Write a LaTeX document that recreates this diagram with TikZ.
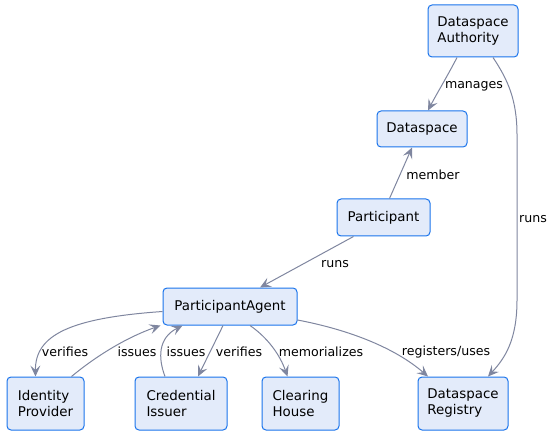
\documentclass[tikz,border=0pt]{standalone}
\usepackage{fontspec}
\setmainfont{DejaVu Sans}
\usetikzlibrary{arrows.meta}
\definecolor{boxfill}{HTML}{E3EBFA}
\definecolor{boxline}{HTML}{1A74EC}
\definecolor{edgecol}{HTML}{7F869F}
\tikzset{
  entity/.style={draw=boxline, fill=boxfill, line width=1pt, rounded corners=4pt,
    align=left, inner sep=0pt, font=\fontsize{13.4}{16}\selectfont},
  rel/.style={draw=edgecol, line width=1pt, -{Stealth[length=11pt,width=10pt,inset=4.5pt]}},
  lbl/.style={font=\fontsize{12.6}{14}\selectfont, inner sep=0pt},
}
\begin{document}
\begin{tikzpicture}[x=1pt,y=-1pt]
\useasboundingbox (0,0) rectangle (553,435);
\node[entity, minimum width=90pt, minimum height=52pt] (auth) at (473,31) {Dataspace\\Authority};
\node[entity, minimum width=90pt, minimum height=36pt] (ds) at (422,129) {Dataspace};
\node[entity, minimum width=93pt, minimum height=37pt] (part) at (383.5,217.5) {Participant};
\node[entity, minimum width=134pt, minimum height=37pt] (pa) at (230,306.5) {ParticipantAgent};
\node[entity, minimum width=77pt, minimum height=53pt] (idp) at (45.5,403.5) {Identity\\Provider};
\node[entity, minimum width=92pt, minimum height=53pt] (ci) at (181,403.5) {Credential\\Issuer};
\node[entity, minimum width=77pt, minimum height=53pt] (ch) at (300.5,403.5) {Clearing\\House};
\node[entity, minimum width=90pt, minimum height=53pt] (reg) at (463,403.5) {Dataspace\\Registry};

% manages
\draw[rel] ([xshift=-16pt]auth.south) .. controls (448,75) and (436,95) .. ([xshift=6pt]ds.north);
\node[lbl] (lmanages) at (474,86) {manages};
% runs (authority -> registry)
\draw[rel] ([xshift=20pt]auth.south) .. controls (508,80) and (517,100) .. (517,135)
  -- (517,300) .. controls (517,340) and (505,358) .. ([xshift=25pt]reg.north);
\node[lbl] (lruns1) at (533,219) {runs};
% member
\draw[rel] ([xshift=6pt]part.north) -- ([xshift=-10pt]ds.south);
\node[lbl] (lmember) at (433,175) {member};
% runs (participant -> agent)
\draw[rel] ([xshift=-30pt]part.south) -- ([xshift=30pt]pa.north);
\node[lbl] (lruns2) at (335,264) {runs};
% verifies (agent -> identity provider)
\draw[rel] ([yshift=-5pt]pa.west) .. controls (70,318) and (35,335) .. ([xshift=-10pt]idp.north);
\node[lbl] (lverifies1) at (65,352) {verifies};
% issues (identity provider -> agent)
\draw[rel] ([xshift=26pt]idp.north) .. controls (95,357) and (125,338) .. ([xshift=-2pt]pa.south west);
\node[lbl] (lissues1) at (137,352) {issues};
% issues (credential issuer -> agent)
\draw[rel] ([xshift=-16pt]ci.north) .. controls (158,358) and (158,338) .. ([xshift=20pt]pa.south west);
\node[lbl] (lissues2) at (186,352) {issues};
% verifies (agent -> credential issuer)
\draw[rel] ([xshift=-7pt]pa.south) .. controls (216,340) and (206,360) .. ([xshift=17pt]ci.north);
\node[lbl] (lverifies2) at (239,352) {verifies};
% memorializes
\draw[rel] ([xshift=20pt]pa.south) .. controls (268,338) and (280,355) .. ([xshift=-13pt]ch.north);
\node[lbl] (lmemo) at (321,352) {memorializes};
% registers/uses
\draw[rel] ([yshift=-13.5pt]pa.east) .. controls (350,330) and (395,348) .. ([xshift=-35pt]reg.north);
\node[lbl] (lreg) at (446,352) {registers/uses};
\end{tikzpicture}
\end{document}
